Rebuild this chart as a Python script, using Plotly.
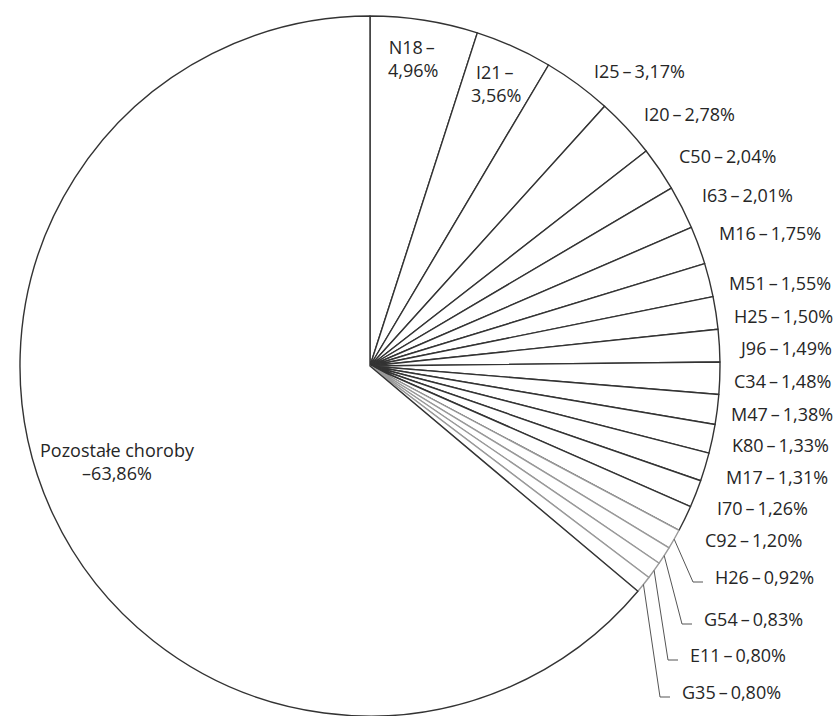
import math
import plotly.graph_objects as go

# ICD-10 codes and their share of cases (%), clockwise from 12 o'clock
codes = ["N18", "I21", "I25", "I20", "C50", "I63", "M16", "M51", "H25", "J96",
         "C34", "M47", "K80", "M17", "I70", "C92", "H26", "G54", "E11", "G35"]
shares = [4.96, 3.56, 3.17, 2.78, 2.04, 2.01, 1.75, 1.55, 1.50, 1.49,
          1.48, 1.38, 1.33, 1.31, 1.26, 1.20, 0.92, 0.83, 0.80, 0.80]
rest_label = "Pozostałe choroby"
rest_share = 63.86

W, H = 835, 716
M_TOP = 16
PLOT_H = H - M_TOP
CX, CY = 370, M_TOP + PLOT_H / 2     # pie centre in pixels
R = PLOT_H / 2                        # pie radius in pixels

FONT = "Open Sans"
TXT = "#262626"
FS = 18
DASH = "\u2009–\u2009"


def px(x, y):
    """pixel position -> paper coordinates"""
    return x / W, 1 - (y - M_TOP) / PLOT_H


def fmt(v):
    return f"{v:.2f}".replace(".", ",") + "%"


labels = codes + [rest_label]
values = shares + [rest_share]

line_cols = ["#333333"] * 16 + ["#999999"] * 4 + ["#333333"]

fig = go.Figure(go.Pie(
    labels=labels,
    values=values,
    sort=False,
    direction="clockwise",
    rotation=0,
    textinfo="none",
    hoverinfo="label+percent",
    marker=dict(colors=["white"] * len(values),
                line=dict(color=line_cols, width=1.4)),
    domain=dict(x=[0.0131, 0.8731], y=[0, 1]),
    showlegend=False,
))

# label placement: left edge x and vertical centre y (pixels)
outside_pos = {
    "I25": (592, 71), "I20": (642, 114), "C50": (677, 156), "I63": (700, 195),
    "M16": (717, 233), "M51": (727, 283), "H25": (732, 316), "J96": (737, 348),
    "C34": (732, 381), "M47": (729, 414), "K80": (730, 445), "M17": (724, 477),
    "I70": (715, 508), "C92": (703, 540), "H26": (713, 577), "G54": (702, 619),
    "E11": (688, 655), "G35": (680, 692),
}
leader_codes = ["H26", "G54", "E11", "G35"]

annotations = []
shapes = []
total = sum(values)
cum = 0.0
for code, v in zip(codes, shares):
    mid = (cum + v / 2) / total
    cum += v
    if code in outside_pos:
        lx, ly = outside_pos[code]
        x, y = px(lx, ly)
        annotations.append(dict(
            x=x, y=y, xref="paper", yref="paper", xanchor="left", yanchor="middle",
            text=f"{code}{DASH}{fmt(v)}", showarrow=False,
            font=dict(family=FONT, size=FS, color=TXT)))
        if code in leader_codes:
            ang = 2 * math.pi * mid
            sx, sy = CX + R * math.sin(ang), CY - R * math.cos(ang)
            ex, ey = lx - 20, ly + 5
            fx, fy = lx - 10, ly + 5
            p0, p1, p2 = px(sx, sy), px(ex, ey), px(fx, fy)
            shapes.append(dict(
                type="path", xref="paper", yref="paper",
                path=f"M {p0[0]},{p0[1]} L {p1[0]},{p1[1]} L {p2[0]},{p2[1]}",
                line=dict(color="#555555", width=1)))

# labels drawn inside their slices
inside_pos = {"N18": (413, 58), "I21": (496, 83)}
for code, (lx, ly) in inside_pos.items():
    v = shares[codes.index(code)]
    x, y = px(lx, ly)
    annotations.append(dict(
        x=x, y=y, xref="paper", yref="paper", xanchor="center", yanchor="middle",
        text=f"{code}{DASH}<br>{fmt(v)}", showarrow=False,
        font=dict(family=FONT, size=FS, color=TXT)))

x, y = px(117, 461)
annotations.append(dict(
    x=x, y=y, xref="paper", yref="paper", xanchor="center", yanchor="middle",
    text=f"{rest_label}<br>–{fmt(rest_share)}", showarrow=False,
    font=dict(family=FONT, size=FS, color=TXT)))

fig.update_layout(
    width=W, height=H,
    margin=dict(l=0, r=0, t=M_TOP, b=0),
    paper_bgcolor="white",
    plot_bgcolor="white",
    annotations=annotations,
    shapes=shapes,
)

fig.write_html("out.html")
